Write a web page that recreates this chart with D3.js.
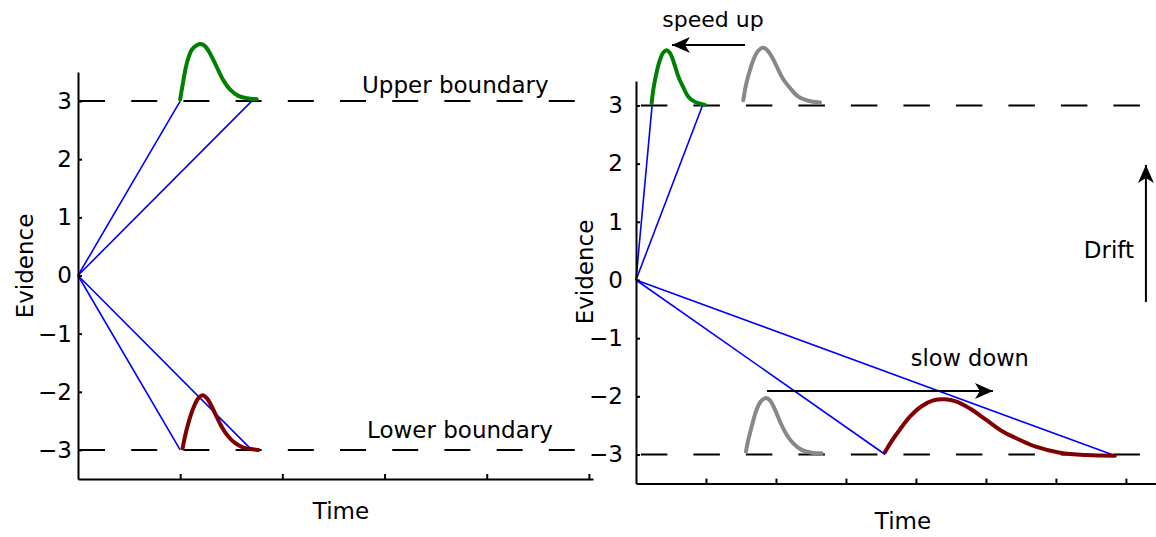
<!DOCTYPE html>
<html lang="en">
<head>
  <meta charset="UTF-8">
  <title>Drift diffusion: speed up / slow down</title>
  <script src="https://d3js.org/d3.v7.min.js"></script>
  <style>
    body { margin: 0; background: #fff; }
    svg text { font-family: "DejaVu Sans", sans-serif; fill: #000; }
    .axis path, .axis line { stroke: #000; stroke-width: 2px; }
    .axis text { font-size: 23px; font-family: "DejaVu Sans", sans-serif; }
    .bound { stroke: #000; stroke-width: 2px; fill: none; }
    .trial { stroke: #0000ff; stroke-width: 1.6px; fill: none; }
    .rt { fill: none; stroke-width: 4px; stroke-linecap: round; }
    .note { stroke: #000; stroke-width: 2px; fill: none; }
  </style>
</head>
<body>
<svg id="chart" width="1156" height="537"></svg>
<script>
  // ---- data (time, evidence) ----
  const boundary = 3;
  const yTicks = [-3, -2, -1, 0, 1, 2, 3];
  const leftTimeTicks = [1, 2, 3, 4, 5];
  const rightTimeTicks = [1, 2, 3, 4, 5, 6, 7];

  // end points of the sample accumulation paths (all start at 0,0)
  const leftTrialEnds = [[1.0, 3], [1.70, 3], [1.0, -3], [1.70, -3]];
  const rightTrialEnds = [[0.23, 3], [0.95, 3], [3.56, -3], [6.80, -3]];

  // response time distributions drawn on the boundaries
  const leftUpperRT = [[1.0, 3.03], [1.026, 3.30], [1.065, 3.65], [1.113, 3.88], [1.162, 3.96], [1.204, 3.98],
    [1.243, 3.945], [1.292, 3.82], [1.357, 3.59], [1.422, 3.36], [1.487, 3.20], [1.569, 3.09], [1.651, 3.05], [1.749, 3.03]];
  const leftLowerRT = [[1.024, -2.97], [1.047, -2.77], [1.080, -2.54], [1.129, -2.28], [1.178, -2.11], [1.221, -2.06],
    [1.260, -2.11], [1.308, -2.25], [1.357, -2.43], [1.406, -2.60], [1.471, -2.77], [1.536, -2.88], [1.618, -2.96],
    [1.716, -2.99], [1.764, -3.0]];
  const rightUpperRT = [[0.224, 3.04], [0.247, 3.27], [0.286, 3.52], [0.333, 3.75], [0.390, 3.91], [0.439, 3.95],
    [0.486, 3.90], [0.543, 3.73], [0.604, 3.50], [0.676, 3.31], [0.747, 3.15], [0.829, 3.07], [0.914, 3.03], [0.986, 3.01]];
  const rightUpperGrey = [[1.533, 3.09], [1.571, 3.35], [1.629, 3.61], [1.686, 3.81], [1.747, 3.94], [1.810, 3.99],
    [1.867, 3.96], [1.939, 3.84], [2.010, 3.67], [2.104, 3.45], [2.200, 3.30], [2.319, 3.15], [2.462, 3.08], [2.629, 3.05]];
  const rightLowerGrey = [[1.571, -2.95], [1.604, -2.75], [1.653, -2.52], [1.714, -2.26], [1.781, -2.09], [1.857, -2.03],
    [1.914, -2.07], [1.986, -2.23], [2.067, -2.46], [2.153, -2.66], [2.247, -2.81], [2.367, -2.92], [2.510, -2.97], [2.653, -2.98]];
  const rightLowerRT = [[3.557, -2.96], [3.653, -2.77], [3.771, -2.57], [3.914, -2.35], [4.081, -2.17], [4.247, -2.07],
    [4.414, -2.05], [4.581, -2.09], [4.771, -2.21], [5.01, -2.41], [5.247, -2.61], [5.486, -2.75], [5.724, -2.87],
    [6.057, -2.97], [6.438, -3.01], [6.843, -3.02]];

  const svg = d3.select("#chart");

  // arrow head (notched, matlab style)
  svg.append("defs").append("marker")
     .attr("id", "head")
     .attr("markerUnits", "userSpaceOnUse")
     .attr("viewBox", "-19 -9 21 18")
     .attr("refX", 0).attr("refY", 0)
     .attr("markerWidth", 21).attr("markerHeight", 18)
     .attr("orient", "auto")
     .append("path")
     .attr("d", "M0,0 L-18,-8 L-13,0 L-18,8 Z")
     .attr("fill", "#000");

  const lineGen = (x, y) => d3.line().x(d => x(d[0])).y(d => y(d[1]));

  function drawPanel(opt) {
    const x = d3.scaleLinear().domain(opt.xDomain).range(opt.xRange);
    const y = d3.scaleLinear().domain(opt.yDomain).range(opt.yRange);
    const g = svg.append("g");

    // boundaries
    [boundary, -boundary].forEach(b => {
      g.append("line").attr("class", "bound")
       .attr("x1", x(opt.dash[0])).attr("x2", x(opt.dash[1]))
       .attr("y1", y(b)).attr("y2", y(b))
       .attr("stroke-dasharray", opt.dashArray);
    });

    // trial paths
    opt.trials.forEach(e => {
      g.append("path").attr("class", "trial")
       .attr("d", lineGen(x, y)([[0, 0], e]));
    });

    // RT curves
    const curve = lineGen(x, y).curve(d3.curveCatmullRom);
    opt.curves.forEach(c => {
      g.append("path").attr("class", "rt")
       .attr("stroke", c.color)
       .attr("d", curve(c.data));
    });

    // axes
    g.append("g").attr("class", "axis")
     .attr("transform", `translate(${opt.xRange[0]},0)`)
     .call(d3.axisLeft(y).tickValues(yTicks).tickFormat(d3.format("d"))
       .tickSizeInner(-4).tickSizeOuter(0).tickPadding(opt.pad));
    g.append("g").attr("class", "axis")
     .attr("transform", `translate(0,${opt.yRange[0]})`)
     .call(d3.axisBottom(x).tickValues(opt.xTicks).tickFormat("")
       .tickSizeInner(-5).tickSizeOuter(0));

    // axis titles
    g.append("text")
     .attr("transform", `translate(${opt.yTitle[0]},${opt.yTitle[1]}) rotate(-90)`)
     .attr("text-anchor", "middle").style("font-size", "23px").text("Evidence");
    g.append("text")
     .attr("x", opt.xTitle[0]).attr("y", opt.xTitle[1])
     .attr("text-anchor", "middle").style("font-size", "23px").text("Time");

    return { x, y, g };
  }

  const left = drawPanel({
    xDomain: [0, 5.04], xRange: [78, 593],
    yDomain: [-3.5, 3.5], yRange: [479, 72],
    dash: [0.01, 4.89], dashArray: "26 26.2",
    trials: leftTrialEnds, xTicks: leftTimeTicks, pad: 6,
    curves: [{ data: leftUpperRT, color: "#008000" }, { data: leftLowerRT, color: "#800000" }],
    yTitle: [33, 266], xTitle: [341, 519]
  });
  left.g.append("text").attr("x", 362).attr("y", 93).style("font-size", "23px").text("Upper boundary");
  left.g.append("text").attr("x", 367).attr("y", 438).style("font-size", "23px").text("Lower boundary");

  const right = drawPanel({
    xDomain: [0, 7.43], xRange: [636, 1156],
    yDomain: [-3.5, 3.42], yRange: [483.6, 81],
    dash: [0.07, 7.21], dashArray: "26.5 26",
    trials: rightTrialEnds, xTicks: rightTimeTicks, pad: 13,
    curves: [
      { data: rightUpperGrey, color: "#888888" }, { data: rightLowerGrey, color: "#888888" },
      { data: rightUpperRT, color: "#008000" }, { data: rightLowerRT, color: "#800000" }
    ],
    yTitle: [593, 272], xTitle: [903, 529]
  });

  // annotations on the right panel
  const rx = right.x, ry = right.y, rg = right.g;
  rg.append("line").attr("class", "note")
    .attr("x1", rx(1.557)).attr("y1", ry(4.04)).attr("x2", rx(0.514)).attr("y2", ry(4.04))
    .attr("marker-end", "url(#head)");
  rg.append("text").attr("x", rx(1.1)).attr("y", 27).attr("text-anchor", "middle")
    .style("font-size", "22px").text("speed up");

  rg.append("line").attr("class", "note")
    .attr("x1", rx(1.871)).attr("y1", ry(-1.91)).attr("x2", rx(5.1)).attr("y2", ry(-1.91))
    .attr("marker-end", "url(#head)");
  rg.append("text").attr("x", rx(4.77)).attr("y", 366).attr("text-anchor", "middle")
    .style("font-size", "22.5px").text("slow down");

  rg.append("line").attr("class", "note")
    .attr("x1", rx(7.286)).attr("y1", ry(-0.378)).attr("x2", rx(7.286)).attr("y2", ry(1.977))
    .attr("marker-end", "url(#head)");
  rg.append("text").attr("x", 1134).attr("y", 258).attr("text-anchor", "end")
    .style("font-size", "23px").text("Drift");
</script>
</body>
</html>
